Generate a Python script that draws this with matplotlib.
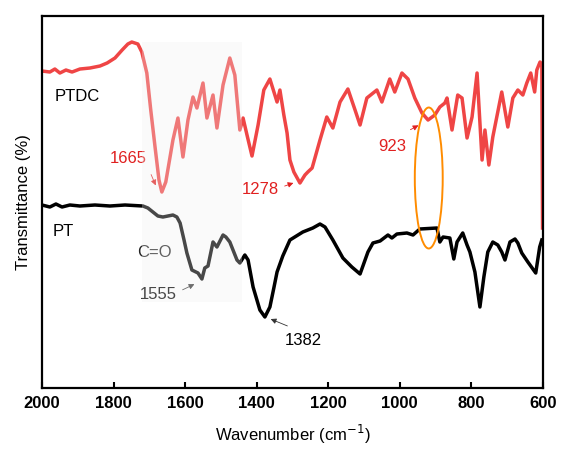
import numpy as np
import matplotlib.pyplot as plt
from matplotlib.patches import Rectangle, Ellipse

plt.rcParams['font.family'] = ['Liberation Sans', 'DejaVu Sans']

# PTDC spectrum (wavenumber, transmittance in arbitrary units)
ptdc_w = [2000, 1978, 1964, 1950, 1933, 1916, 1894, 1866, 1838, 1818, 1796, 1776, 1760, 1749,
          1732, 1721, 1707, 1696, 1684, 1673, 1665, 1654, 1634, 1620, 1606, 1592, 1578, 1567,
          1550, 1539, 1522, 1511, 1494, 1475, 1461, 1447, 1438, 1427, 1413, 1396, 1380, 1363,
          1343, 1335, 1324, 1315, 1307, 1296, 1279, 1265, 1257, 1245, 1223, 1204, 1187, 1167,
          1145, 1125, 1111, 1092, 1064, 1050, 1028, 1014, 994, 977, 958, 938, 921, 902, 888,
          874, 868, 854, 838, 826, 812, 798, 784, 770, 762, 751, 740, 715, 698, 684, 670, 656,
          645, 634, 623, 617, 608, 603, 601]
ptdc_t = [317, 316, 319, 315, 318, 316, 319, 320, 322, 325, 330, 338, 344, 346,
          344, 336, 315, 278, 241, 208, 196, 206, 248, 270, 231, 268, 291, 280,
          305, 270, 293, 260, 303, 330, 313, 258, 270, 253, 232, 263, 298, 309,
          286, 298, 273, 255, 228, 216, 205, 213, 216, 220, 248, 271, 260, 286,
          299, 278, 263, 290, 298, 286, 309, 296, 315, 309, 290, 275, 268, 273, 281,
          285, 290, 258, 293, 290, 250, 271, 315, 228, 258, 223, 251, 296, 261, 290, 298, 293,
          305, 315, 296, 318, 326, 324, 160]

# PT spectrum
pt_w = [2000, 1978, 1961, 1944, 1922, 1894, 1852, 1810, 1768, 1718, 1704, 1690, 1676, 1662,
        1648, 1634, 1623, 1614, 1603, 1595, 1581, 1564, 1553, 1545, 1536, 1522, 1511, 1494,
        1486, 1475, 1455, 1447, 1433, 1424, 1410, 1391, 1377, 1363, 1352, 1343, 1327, 1307,
        1271, 1243, 1223, 1209, 1187, 1159, 1134, 1111, 1089, 1075, 1055, 1033, 1022, 1008,
        980, 963, 944, 896, 888, 879, 860, 849, 840, 824, 812, 804, 790, 776, 765, 754, 740,
        726, 715, 706, 692, 678, 670, 659, 642, 620, 609, 603]
pt_t = [183, 181, 184, 181, 183, 182, 183, 182, 183, 182, 180, 176, 172, 171,
        172, 173, 171, 165, 148, 135, 118, 115, 109, 120, 122, 146, 141, 153,
        151, 146, 128, 125, 133, 128, 101, 78, 71, 81, 100, 116, 132, 148,
        156, 160, 164, 161, 148, 130, 121, 114, 136, 145, 147, 153, 150, 154,
        155, 153, 159, 160, 146, 151, 150, 129, 146, 155, 143, 136, 116, 81, 111, 136, 146,
        143, 136, 128, 146, 149, 145, 135, 126, 115, 141, 148]

fig = plt.figure(figsize=(5.62, 4.5), dpi=100)
ax = fig.add_axes([0.0747, 0.1378, 0.8913, 0.8266])

ax.plot(ptdc_w, ptdc_t, color='#ef4545', lw=2.5, solid_joinstyle='round', zorder=2)
ax.plot(pt_w, pt_t, color='black', lw=2.5, solid_joinstyle='round', zorder=2)

# shaded C=O region drawn over the curves
ax.add_patch(Rectangle((1440, 86), 280, 260, facecolor='#f0f0f0', edgecolor='none',
                       alpha=0.3, zorder=5))
ax.add_patch(Ellipse((919, 210), 78, 141, facecolor='none', edgecolor='#ff8c00',
                     lw=1.4, zorder=6))

ax.text(1966, 292, 'PTDC', fontsize=12, va='center', ha='left')
ax.text(1969, 157, 'PT', fontsize=12, va='center', ha='left')
ax.text(1687, 136, 'C=O', fontsize=12, va='center', ha='center', color='#222222', zorder=3)

red_arrow = dict(arrowstyle='-|>', color='#e02020', lw=0.6, mutation_scale=8)
blk_arrow = dict(arrowstyle='-|>', color='#333333', lw=0.6, mutation_scale=8)
ax.annotate('', xy=(1679, 200), xytext=(1698, 216), arrowprops=red_arrow)
ax.text(1760, 230, '1665', color='#e02020', fontsize=12, ha='center', va='center')
ax.annotate('', xy=(1290, 206), xytext=(1329, 201), arrowprops=red_arrow)
ax.text(1391, 199, '1278', color='#e02020', fontsize=12, ha='center', va='center')
ax.annotate('', xy=(941, 264), xytext=(977, 257), arrowprops=red_arrow)
ax.text(1022, 242, '923', color='#e02020', fontsize=12, ha='center', va='center')
ax.annotate('', xy=(1567, 105), xytext=(1614, 97), arrowprops=blk_arrow)
ax.text(1676, 93, '1555', fontsize=12, ha='center', va='center', zorder=3)
ax.annotate('', xy=(1368, 70), xytext=(1307, 61), arrowprops=blk_arrow)
ax.text(1271, 47, '1382', fontsize=12, ha='center', va='center')

ax.set_xlim(2000, 600)
ax.set_ylim(0, 372)
ax.set_xticks([2000, 1800, 1600, 1400, 1200, 1000, 800, 600])
ax.set_yticks([])
ax.tick_params(axis='x', direction='in', length=4, width=1.5, labelsize=12, pad=6)
for lab in ax.get_xticklabels():
    lab.set_fontweight('bold')
for s in ax.spines.values():
    s.set_linewidth(1.6)

ax.set_xlabel('Wavenumber (cm$^{-1}$)', fontsize=12, labelpad=8)
ax.set_ylabel('Transmittance (%)', fontsize=12, labelpad=8)

fig.savefig('out.png', dpi=100)
